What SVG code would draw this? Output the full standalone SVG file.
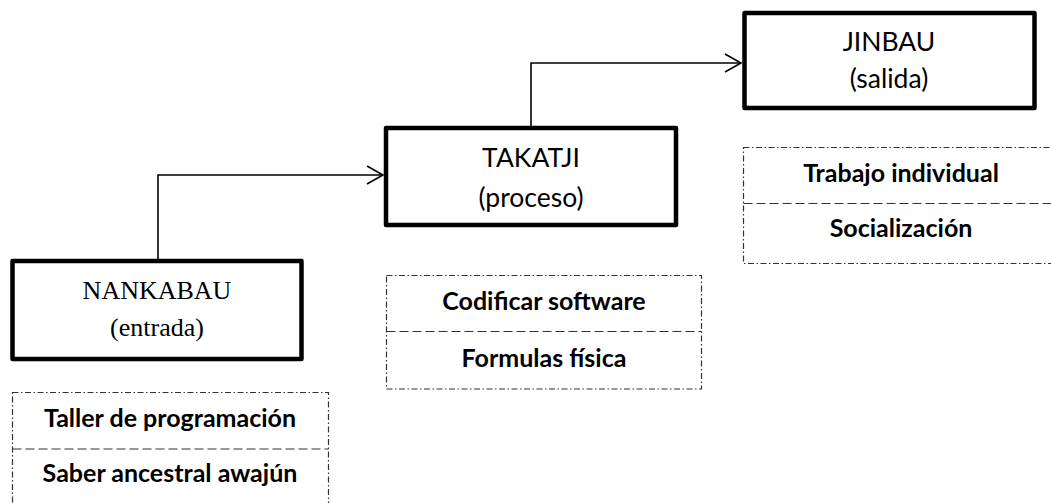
<svg xmlns="http://www.w3.org/2000/svg" width="1051" height="503" viewBox="0 0 1051 503">
<style>
.node{fill:#fff;stroke:#000;stroke-width:4.5;stroke-linejoin:round}
.serif{font-family:"Liberation Serif","Times New Roman",serif;font-size:26px;fill:#000;text-anchor:middle}
.sans{font-family:Lato,"Open Sans",sans-serif;font-size:26.5px;fill:#000;text-anchor:middle}
.item{font-family:Lato,"Open Sans",sans-serif;font-size:25px;font-weight:bold;fill:#000;text-anchor:middle}
.list{fill:none;stroke:#333;stroke-width:1.2;stroke-dasharray:6 2.5 1.5 2.5}
.div{fill:none;stroke:#333;stroke-width:1.2;stroke-dasharray:9 4}
.conn{fill:none;stroke:#000;stroke-width:1.6}
</style>
<defs>
<marker id="arr" markerUnits="userSpaceOnUse" viewBox="-18 -11 20 22" refX="0" refY="0" markerWidth="20" markerHeight="22" orient="auto">
<path d="M-16,-9 L0,0 L-16,9" fill="none" stroke="#000" stroke-width="1.6"/>
</marker>
</defs>
<g id="connectors">
<path class="conn" d="M158 259 V175 H383" marker-end="url(#arr)"/>
<path class="conn" d="M531 126 V63 H741" marker-end="url(#arr)"/>
</g>
<g id="nankabau">
<rect class="node" x="12.5" y="261" width="289" height="98"/>
<text class="serif" x="157" y="299">NANKABAU</text>
<text class="serif" x="157" y="336">(entrada)</text>
</g>
<g id="takatji">
<rect class="node" x="386" y="128" width="290" height="97"/>
<text class="sans" x="531" y="167">TAKATJI</text>
<text class="sans" x="531" y="207">(proceso)</text>
</g>
<g id="jinbau">
<rect class="node" x="744.5" y="13" width="290" height="95"/>
<text class="sans" x="889" y="51">JINBAU</text>
<text class="sans" x="889" y="88">(salida)</text>
</g>
<g id="list-entrada">
<rect class="list" x="12.5" y="392.5" width="316" height="114"/>
<line class="div" x1="12.5" y1="449" x2="328.5" y2="449"/>
<text class="item" x="170" y="427">Taller de programación</text>
<text class="item" x="170" y="482">Saber ancestral awajún</text>
</g>
<g id="list-proceso">
<rect class="list" x="386.5" y="275.5" width="315" height="113.5"/>
<line class="div" x1="386.5" y1="331.5" x2="701.5" y2="331.5"/>
<text class="item" x="544" y="310">Codificar software</text>
<text class="item" x="544" y="367">Formulas física</text>
</g>
<g id="list-salida">
<rect class="list" x="743.5" y="147.5" width="316" height="116"/>
<line class="div" x1="743.5" y1="203.5" x2="1059.5" y2="203.5"/>
<text class="item" x="901" y="182">Trabajo individual</text>
<text class="item" x="901" y="237">Socialización</text>
</g>
</svg>
